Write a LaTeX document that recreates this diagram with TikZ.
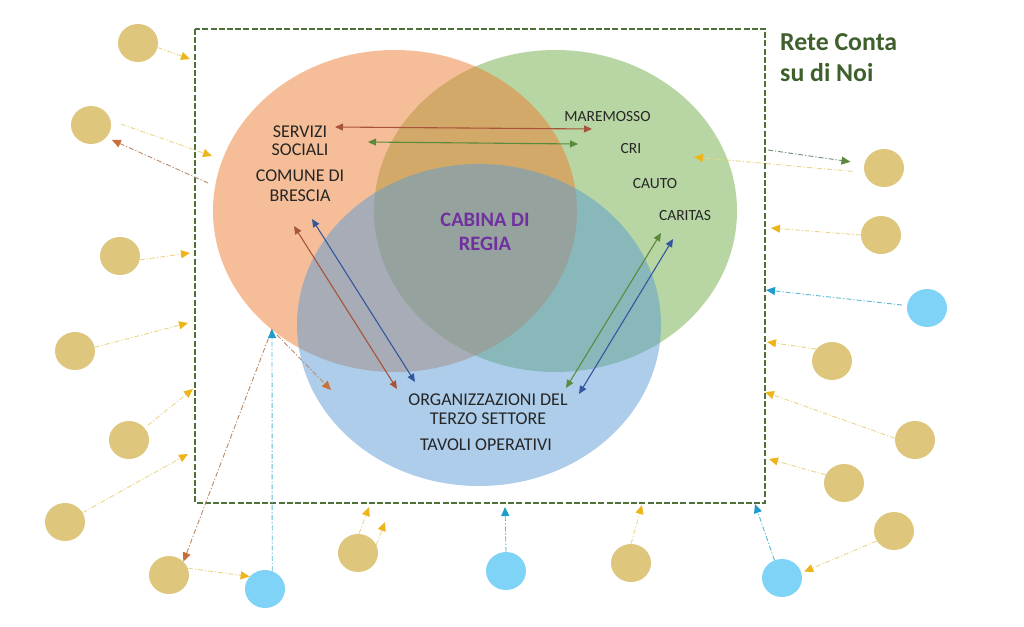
\documentclass[tikz,border=0pt]{standalone}
\usepackage{fontspec}
\setmainfont{Carlito}
\usetikzlibrary{arrows.meta,shapes.geometric}
\definecolor{tan}{HTML}{DEC67C}
\definecolor{sky}{HTML}{7FD3F7}
\definecolor{framegreen}{HTML}{4F7038}
\definecolor{tityellow}{HTML}{EAD689}
\definecolor{tipyellow}{HTML}{EDB51A}
\definecolor{lineblue}{HTML}{5DB8D2}
\definecolor{tipblue}{HTML}{1E9CCB}
\definecolor{linebrown}{HTML}{B98A6A}
\definecolor{tipbrown}{HTML}{C96F3A}
\definecolor{darkorange}{HTML}{A8533A}
\definecolor{darkgreen}{HTML}{5B8A3C}
\definecolor{darkblue}{HTML}{34569E}
\tikzset{
  x=1pt,y=-1pt,
  tanball/.style={ellipse,fill=tan,minimum width=40pt,minimum height=38pt,inner sep=0pt},
  skyball/.style={ellipse,fill=sky,minimum width=40pt,minimum height=38pt,inner sep=0pt},
  venn/.style={fill opacity=0.5,draw=none},
  lab/.style={align=center,inner sep=0pt,text=black!85,font=\fontsize{18}{18}\selectfont},
  smalllab/.style={align=center,inner sep=0pt,text=black!85,font=\fontsize{15.5}{16}\selectfont},
  dd/.style={line width=0.9pt,dash pattern=on 5pt off 2pt on 1.2pt off 2pt},
  yel/.style={dd,draw=tityellow,-{Triangle[length=9pt,width=8pt,color=tipyellow]}},
  blu/.style={dd,draw=lineblue,-{Triangle[length=9pt,width=8pt,color=tipblue]}},
  bro/.style={dd,draw=linebrown,-{Triangle[length=9pt,width=8pt,color=tipbrown]}},
  gry/.style={dd,draw=gray!90!green,-{Triangle[length=9pt,width=8pt,color=darkgreen]}},
  twoway/.style={line width=1.1pt,{Triangle[length=8pt,width=7pt]}-{Triangle[length=8pt,width=7pt]}},
}
\begin{document}
\begin{tikzpicture}
\useasboundingbox (0,0) rectangle (1024,626);
% Venn
\fill[venn,fill={rgb,255:red,112;green,173;blue,71}] (555.5,211) ellipse [x radius=181.5,y radius=161];
\fill[venn,fill={rgb,255:red,237;green,125;blue,49}] (395,211) ellipse [x radius=182,y radius=161];
\fill[venn,fill={rgb,255:red,91;green,155;blue,213}] (479,325) ellipse [x radius=182,y radius=161];
% frame
\draw[framegreen,line width=1.9pt,dash pattern=on 6pt off 2.2pt] (195,29) rectangle (765,503);
% balls
\node[tanball] (t1) at (138,43) {};
\node[tanball] (t2) at (91,125) {};
\node[tanball] (t3) at (120,256) {};
\node[tanball] (t4) at (75,351) {};
\node[tanball] (t5) at (129,440) {};
\node[tanball] (t6) at (65,522) {};
\node[tanball] (t7) at (169,575) {};
\node[tanball] (t8) at (358,553) {};
\node[tanball] (t9) at (631,563) {};
\node[tanball] (t10) at (832,361) {};
\node[tanball] (t11) at (915,440) {};
\node[tanball] (t12) at (844,483) {};
\node[tanball] (t13) at (894,531) {};
\node[tanball] (t14) at (881,235) {};
\node[tanball] (t15) at (884,168) {};
\node[skyball] (b1) at (265,589) {};
\node[skyball] (b2) at (506,571) {};
\node[skyball] (b3) at (782,578) {};
\node[skyball] (b4) at (927,308) {};
% labels
\node[lab] (servizi) at (300,141) {SERVIZI\\SOCIALI};
\node[lab,font=\fontsize{18}{20}\selectfont] (comune) at (300,186) {COMUNE DI\\BRESCIA};
\node[smalllab] (maremosso) at (607.5,117) {MAREMOSSO};
\node[smalllab] (cri) at (631,149) {CRI};
\node[smalllab] (cauto) at (655,184) {CAUTO};
\node[smalllab] (caritas) at (685,216) {CARITAS};
\node[align=center,inner sep=0pt,text={rgb,255:red,112;green,48;blue,160},font=\fontsize{20.5}{24.5}\selectfont\bfseries] (cabina) at (485,232) {CABINA DI\\REGIA};
\node[lab,font=\fontsize{18}{19}\selectfont] (org) at (488,409.5) {ORGANIZZAZIONI DEL\\TERZO SETTORE};
\node[lab] (tavoli) at (486,445) {TAVOLI OPERATIVI};
\node[anchor=north west,align=left,inner sep=0pt,text={rgb,255:red,63;green,95;blue,44},font=\fontsize{25.8}{31}\selectfont\bfseries] (titolo) at (780,33) {Rete Conta\\su di Noi};
% free ends
\coordinate (e1) at (190,59);
\coordinate (e2) at (212,156);
\coordinate (s2b) at (208,183);
\coordinate (e3) at (190,253);
\coordinate (e4) at (188,323);
\coordinate (e5) at (193,389);
\coordinate (e6) at (188,454);
\coordinate (hub) at (272,329);
\coordinate (hubs) at (277,335);
\coordinate (hubb) at (331,390);
\coordinate (e8a) at (369,507);
\coordinate (e8b) at (385,522);
\coordinate (eb2) at (505,507);
\coordinate (e9) at (642,505);
\coordinate (eb3) at (755,504);
\coordinate (e12) at (769,459);
\coordinate (e11) at (765,392);
\coordinate (e10) at (767,342);
\coordinate (eb4) at (766,290);
\coordinate (e14) at (771,228);
\coordinate (e15) at (694,157);
\coordinate (sg) at (768,150);
\coordinate (h1a) at (335,127);
\coordinate (h1b) at (592,129);
\coordinate (h2a) at (368,142);
\coordinate (h2b) at (578,144);
\coordinate (d1a) at (294,226);
\coordinate (d1b) at (397,389);
\coordinate (d2a) at (312,219);
\coordinate (d2b) at (415,382);
\coordinate (d3a) at (661,233);
\coordinate (d3b) at (566,388);
\coordinate (d4a) at (673,239);
\coordinate (d4b) at (579,394);
% outer connectors
\draw[yel] (t1.-13) -- (e1);
\draw[yel,shorten <=11pt] (t2.13) -- (e2);
\draw[bro,shorten >=6pt] (s2b) -- (t2.-39);
\draw[yel] (t3.-11) -- (e3);
\draw[yel] (t4.11) -- (e4);
\draw[yel,shorten <=4pt] (t5.38) -- (e5);
\draw[yel] (t6.28) -- (e6);
\draw[bro] (hub) -- (t7.43);
\draw[bro] (hubs) -- (hubb);
\draw[yel] (t7.20) -- (b1.141);
\draw[blu] (b1.68) -- (hub);
\draw[yel] (t8.87) -- (e8a);
\draw[yel] (t8.24) -- (e8b);
\draw[blu] (b2.90) -- (eb2);
\draw[yel] (t9.90) -- (e9);
\draw[blu] (b3.113) -- (eb3);
\draw[yel,shorten >=3pt] (t13.210) -- (b3.15);
\draw[yel] (t12.156) -- (e12);
\draw[yel] (t11.175) -- (e11);
\draw[yel] (t10.143) -- (e10);
\draw[blu,shorten <=5pt] (b4.173) -- (eb4);
\draw[yel] (t14.180) -- (e14);
\draw[yel,shorten <=12pt] (t15.193) -- (e15);
\draw[gry,shorten >=14pt] (sg) -- (t15.168);
% inner double arrows
\draw[twoway,darkorange] (h1a) -- (h1b);
\draw[twoway,darkgreen] (h2a) -- (h2b);
\draw[twoway,darkorange] (d1a) -- (d1b);
\draw[twoway,darkblue] (d2a) -- (d2b);
\draw[twoway,darkgreen] (d3a) -- (d3b);
\draw[twoway,darkblue] (d4a) -- (d4b);
\end{tikzpicture}
\end{document}
